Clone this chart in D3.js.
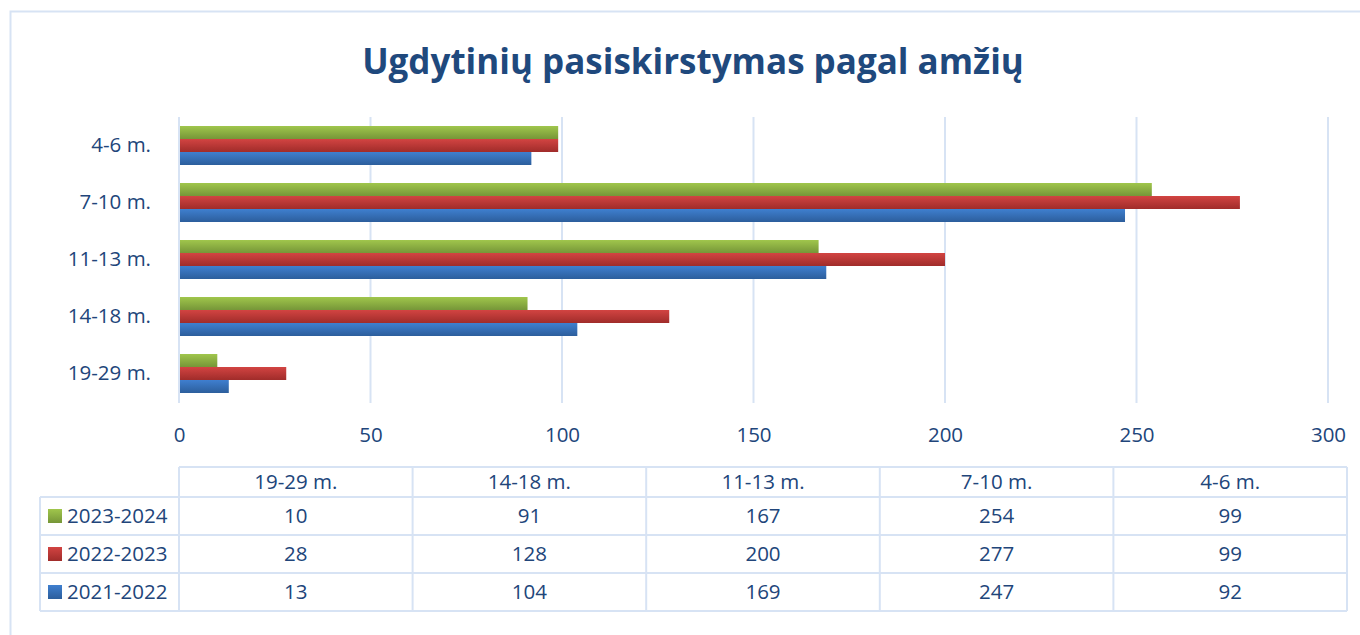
<!DOCTYPE html>
<html>
<head>
<meta charset="utf-8">
<script src="https://cdn.jsdelivr.net/npm/d3@7"></script>
<style>
  body { margin: 0; background: #fff; }
  text { font-family: "Open Sans", "Noto Sans", sans-serif; }
</style>
</head>
<body>
<div id="chart"></div>
<script>
var categories = ['4-6 m.', '7-10 m.', '11-13 m.', '14-18 m.', '19-29 m.'];
var seriesNames = ['2023-2024', '2022-2023', '2021-2022'];
var values2324 = [99, 254, 167, 91, 10];
var values2223 = [99, 277, 200, 128, 28];
var values2122 = [92, 247, 169, 104, 13];
var xTicks = [0, 50, 100, 150, 200, 250, 300];
var tableOrder = ['19-29 m.', '14-18 m.', '11-13 m.', '7-10 m.', '4-6 m.'];

var colors = {
  '2023-2024': ['#a0c64c', '#769638'],
  '2022-2023': ['#d24442', '#a02c2a'],
  '2021-2022': ['#3f7fcf', '#2c5e9c']
};

var series = seriesNames.map(function (name, i) {
  return { name: name, values: [values2324, values2223, values2122][i] };
});

var width = 1360, height = 635,
    textColor = '#21457a',
    lineColor = '#d7e3f4',
    fontSize = '20.5px';

var svg = d3.select('#chart')
  .append('svg')
    .attr('width', width)
    .attr('height', height);
var defs = svg.append('defs');

series.forEach(function (s, i) {
  var grad = defs.append('linearGradient')
      .attr('id', 'grad' + i)
      .attr('x1', 0).attr('y1', 0).attr('x2', 0).attr('y2', 1);
  grad.append('stop').attr('offset', '0%').attr('stop-color', colors[s.name][0]);
  grad.append('stop').attr('offset', '100%').attr('stop-color', colors[s.name][1]);
});

// outer chart border
svg.append('rect')
  .attr('x', 10.5).attr('y', 11.5)
  .attr('width', 1370).attr('height', 650)
  .attr('fill', 'none')
  .attr('stroke', lineColor)
  .attr('stroke-width', 2);

svg.append('text')
  .attr('x', 693)
  .attr('y', 74)
  .attr('text-anchor', 'middle')
  .style('font-size', '35px')
  .style('font-weight', 'bold')
  .style('fill', '#1f497d')
  .text('Ugdytinių pasiskirstymas pagal amžių');

var x = d3.scaleLinear().domain([0, 300]).range([179, 1328]);
var y = d3.scaleBand().domain(categories).range([117, 402]).paddingInner(18 / 57).paddingOuter(9 / 57);
var ySub = d3.scaleBand().domain(seriesNames).range([0, y.bandwidth()]);

// gridlines
svg.append('g')
  .selectAll('line')
  .data(xTicks)
  .enter().append('line')
    .attr('x1', function (d) { return x(d); })
    .attr('x2', function (d) { return x(d); })
    .attr('y1', 117)
    .attr('y2', 403)
    .attr('stroke', lineColor)
    .attr('stroke-width', 2);

// bars
var groups = svg.selectAll('g.series')
  .data(series)
  .enter().append('g')
    .classed('series', true)
    .attr('fill', function (d, i) { return 'url(#grad' + i + ')'; });

groups.selectAll('rect')
  .data(function (s) {
    return s.values.map(function (v, j) { return { name: s.name, cat: categories[j], value: v }; });
  })
  .enter().append('rect')
    .attr('x', x(0) + 1)
    .attr('y', function (d) { return y(d.cat) + ySub(d.name); })
    .attr('width', function (d) { return x(d.value) - x(0) - 1; })
    .attr('height', ySub.bandwidth());

// x axis labels
var xAxis = svg.append('g')
  .attr('transform', 'translate(0,435)')
  .call(d3.axisBottom(x).tickValues(xTicks).tickSize(0).tickPadding(0));
xAxis.select('.domain').remove();
xAxis.selectAll('text')
  .attr('dy', '0.35em')
  .style('font-size', fontSize)
  .style('font-family', '"Open Sans", "Noto Sans", sans-serif')
  .style('fill', textColor);

// y axis labels
var yAxis = svg.append('g')
  .attr('transform', 'translate(151,0)')
  .call(d3.axisLeft(y).tickSize(0).tickPadding(0));
yAxis.select('.domain').remove();
yAxis.selectAll('text')
  .style('font-size', fontSize)
  .style('font-family', '"Open Sans", "Noto Sans", sans-serif')
  .style('fill', textColor);

// data table
var colX = d3.scaleBand().domain(tableOrder).range([179, 1347]);
var rowTops = [467, 497, 535, 573, 611];
var table = svg.append('g');

function hline(x1, x2, yy) {
  table.append('line').attr('x1', x1).attr('x2', x2).attr('y1', yy).attr('y2', yy)
    .attr('stroke', lineColor).attr('stroke-width', 2);
}
function vline(xx, y1, y2) {
  table.append('line').attr('x1', xx).attr('x2', xx).attr('y1', y1).attr('y2', y2)
    .attr('stroke', lineColor).attr('stroke-width', 2);
}
hline(179, 1347, rowTops[0]);
hline(40, 1347, rowTops[1]);
hline(40, 1347, rowTops[2]);
hline(40, 1347, rowTops[3]);
hline(40, 1347, rowTops[4]);
vline(40, rowTops[1], rowTops[4]);
tableOrder.forEach(function (c) { vline(colX(c), rowTops[0], rowTops[4]); });
vline(1347, rowTops[0], rowTops[4]);

table.selectAll('text.head')
  .data(tableOrder)
  .enter().append('text')
    .attr('x', function (d) { return colX(d) + colX.bandwidth() / 2; })
    .attr('y', (rowTops[0] + rowTops[1]) / 2)
    .attr('dy', '0.35em')
    .attr('text-anchor', 'middle')
    .style('font-size', fontSize)
    .style('fill', textColor)
    .text(function (d) { return d; });

series.forEach(function (s, i) {
  var cy = (rowTops[i + 1] + rowTops[i + 2]) / 2;
  table.append('rect')
    .attr('x', 48).attr('y', cy - 7)
    .attr('width', 14).attr('height', 14)
    .attr('fill', 'url(#grad' + i + ')');
  table.append('text')
    .attr('x', 67).attr('y', cy)
    .attr('dy', '0.35em')
    .style('font-size', fontSize)
    .style('fill', textColor)
    .text(s.name);
  table.selectAll('text.v' + i)
    .data(tableOrder)
    .enter().append('text')
      .attr('x', function (d) { return colX(d) + colX.bandwidth() / 2; })
      .attr('y', cy)
      .attr('dy', '0.35em')
      .attr('text-anchor', 'middle')
      .style('font-size', fontSize)
      .style('fill', textColor)
      .text(function (d) { return s.values[categories.indexOf(d)]; });
});
</script>
</body>
</html>
